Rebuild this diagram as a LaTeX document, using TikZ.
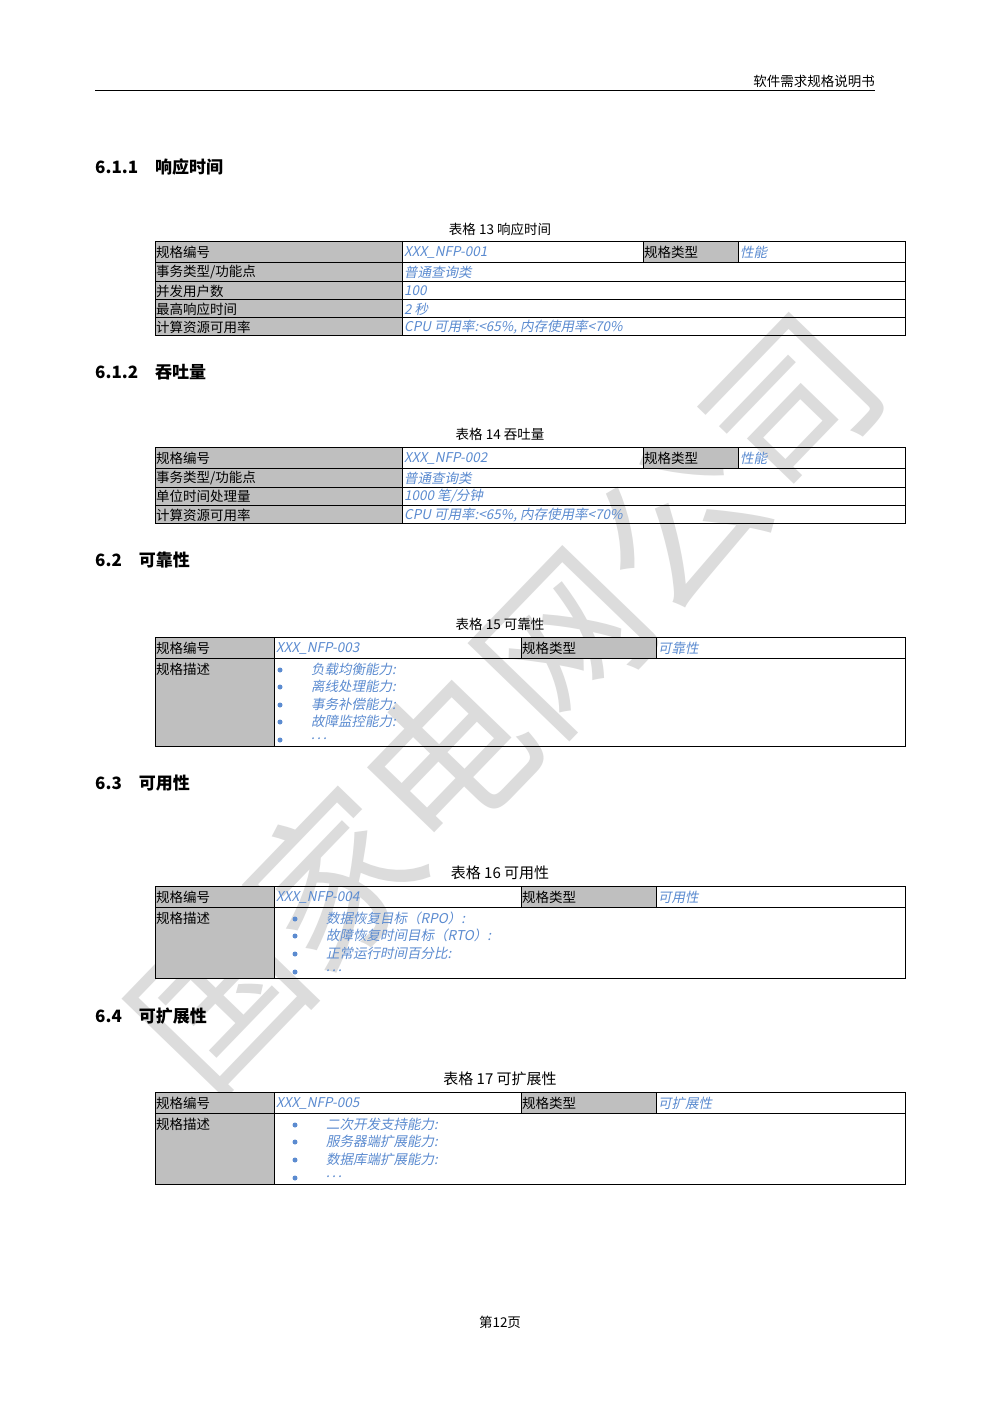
\documentclass[tikz,border=0pt]{standalone}
\usepackage{fontspec}
\setmainfont{Liberation Serif}
\newfontfamily\cjk{Noto Sans CJK SC}
\newfontfamily\cjki{Noto Sans CJK SC}[FakeSlant=0.2]
\definecolor{cellgray}{HTML}{BFBFBF}
\definecolor{bluetxt}{HTML}{5B8BD0}
\definecolor{wm}{HTML}{DCDCDC}
\newcommand\gc[4]{\fill[cellgray] (#1,#2) rectangle (#3,#4);}
\newcommand\mydots{.\,.\,.}
\begin{document}
\begin{tikzpicture}[x=1pt,y=-1pt,
  lab/.style={anchor=west,inner sep=0pt,font=\cjk\fontsize{13.5}{14}\selectfont},
  val/.style={anchor=west,inner sep=0pt,text=bluetxt,font=\cjki\fontsize{13.5}{14}\selectfont},
  head/.style={anchor=west,inner sep=0pt,font=\cjk\bfseries\fontsize{17}{18}\selectfont},
  captxt/.style={inner sep=0pt,font=\cjk\fontsize{13.5}{14}\selectfont},
  bul/.style={circle,fill=bluetxt,inner sep=0pt,minimum size=5pt},
  tb/.style={line width=0.8pt}]
\useasboundingbox (0,0) rectangle (1000,1415);
\fill[white] (0,0) rectangle (1000,1415);
% watermark
\node[rotate=46,text=wm,font=\cjk\fontsize{165}{170}\selectfont,inner sep=0pt] (wmk) at (505,700) {国家电网公司};
% header
\draw[line width=1pt] (95,91) -- (875,91);
\node[anchor=south east,inner sep=0pt,font=\cjk\fontsize{13.5}{14}\selectfont] (hdr) at (875,88) {软件需求规格说明书};
% headings
\node[head] (h1) at (95,167) {6.1.1\quad 响应时间};
\node[head] (h2) at (95,372) {6.1.2\quad 吞吐量};
\node[head] (h3) at (95,560) {6.2\quad 可靠性};
\node[head] (h4) at (95,783) {6.3\quad 可用性};
\node[head] (h5) at (95,1016) {6.4\quad 可扩展性};
% captions
\node[captxt] (c1) at (500,229) {表格 13 响应时间};
\node[captxt] (c2) at (500,434) {表格 14 吞吐量};
\node[captxt] (c3) at (500,624) {表格 15 可靠性};
\node[captxt,font=\cjk\fontsize{15}{16}\selectfont] (c4) at (500,873) {表格 16 可用性};
\node[captxt,font=\cjk\fontsize{15}{16}\selectfont] (c5) at (500,1079) {表格 17 可扩展性};
% ---- table 13
\gc{155}{241}{402}{335}\gc{643}{241}{738}{262}
\draw[tb] (155,241) rectangle (905,335);
\foreach \y in {262,281,299,317} \draw (155,\y) -- (905,\y);
\draw (402,241) -- (402,335); \draw (643,241) -- (643,262); \draw (738,241) -- (738,262);
\node[lab] at (156,252) {规格编号}; \node[val] at (404,252) {XXX\_NFP-001};
\node[lab] at (644,252) {规格类型}; \node[val] at (740,252) {性能};
\node[lab] at (156,272) {事务类型/功能点}; \node[val] at (404,272) {普通查询类};
\node[lab] at (156,291) {并发用户数}; \node[val] at (404,291) {100};
\node[lab] at (156,309) {最高响应时间}; \node[val] at (404,309) {2 秒};
\node[lab] at (156,327) {计算资源可用率}; \node[val] at (404,327) {CPU 可用率:<65\%, 内存使用率<70\%};
% ---- table 14
\gc{155}{447}{402}{523}\gc{643}{447}{738}{468}
\draw[tb] (155,447) rectangle (905,523);
\foreach \y in {468,487,505} \draw (155,\y) -- (905,\y);
\draw (402,447) -- (402,523); \draw (643,447) -- (643,468); \draw (738,447) -- (738,468);
\node[lab] at (156,458) {规格编号}; \node[val] at (404,458) {XXX\_NFP-002};
\node[lab] at (644,458) {规格类型}; \node[val] at (740,458) {性能};
\node[lab] at (156,478) {事务类型/功能点}; \node[val] at (404,478) {普通查询类};
\node[lab] at (156,496) {单位时间处理量}; \node[val] at (404,496) {1000 笔/分钟};
\node[lab] at (156,515) {计算资源可用率}; \node[val] at (404,515) {CPU 可用率:<65\%, 内存使用率<70\%};
% ---- table 15
\gc{155}{637}{274}{746}\gc{521}{637}{656}{658}
\draw[tb] (155,637) rectangle (905,746);
\draw (155,658) -- (905,658);
\draw (274,637) -- (274,746); \draw (521,637) -- (521,658); \draw (656,637) -- (656,658);
\node[lab] at (156,648) {规格编号}; \node[val] at (276,648) {XXX\_NFP-003};
\node[lab] at (522,648) {规格类型}; \node[val] at (658,648) {可靠性};
\node[lab] at (156,669) {规格描述};
\foreach \y/\t in {669/负载均衡能力:,686/离线处理能力:,704/事务补偿能力:,721/故障监控能力:,739/\mydots}
  {\node[bul] at (280,\y+1) {}; \node[val] at (311,\y) {\t};}
% ---- table 16
\gc{155}{886}{274}{978}\gc{521}{886}{656}{907}
\draw[tb] (155,886) rectangle (905,978);
\draw (155,907) -- (905,907);
\draw (274,886) -- (274,978); \draw (521,886) -- (521,907); \draw (656,886) -- (656,907);
\node[lab] at (156,897) {规格编号}; \node[val] at (276,897) {XXX\_NFP-004};
\node[lab] at (522,897) {规格类型}; \node[val] at (658,897) {可用性};
\node[lab] at (156,918) {规格描述};
\foreach \y/\t in {918/数据恢复目标（RPO）:,935/故障恢复时间目标（RTO）:,953/正常运行时间百分比:,971/\mydots}
  {\node[bul] at (295,\y+1) {}; \node[val] at (326,\y) {\t};}
% ---- table 17
\gc{155}{1092}{274}{1184}\gc{521}{1092}{656}{1113}
\draw[tb] (155,1092) rectangle (905,1184);
\draw (155,1113) -- (905,1113);
\draw (274,1092) -- (274,1184); \draw (521,1092) -- (521,1113); \draw (656,1092) -- (656,1113);
\node[lab] at (156,1103) {规格编号}; \node[val] at (276,1103) {XXX\_NFP-005};
\node[lab] at (522,1103) {规格类型}; \node[val] at (658,1103) {可扩展性};
\node[lab] at (156,1124) {规格描述};
\foreach \y/\t in {1124/二次开发支持能力:,1141/服务器端扩展能力:,1159/数据库端扩展能力:,1177/\mydots}
  {\node[bul] at (295,\y+1) {}; \node[val] at (326,\y) {\t};}
% footer
\node[captxt] (ft) at (500,1322) {第12页};
\end{tikzpicture}
\end{document}
